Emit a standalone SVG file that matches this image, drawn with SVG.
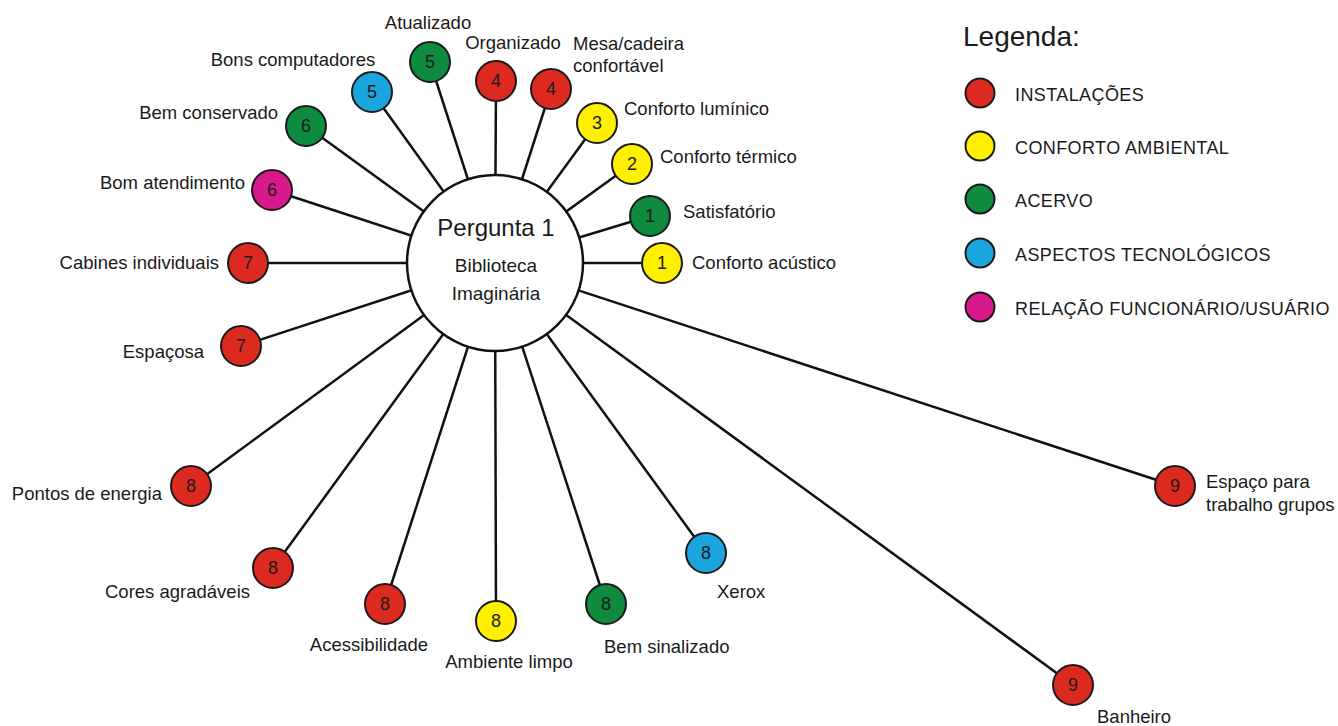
<svg xmlns="http://www.w3.org/2000/svg" width="1338" height="726" viewBox="0 0 1338 726">
<style>
text{font-family:"Liberation Sans",Arial,sans-serif;fill:#1a1a1a}
.lbl{font-size:18.5px}
.num{font-size:18px;text-anchor:middle}
.leg{font-size:18px;letter-spacing:0.4px}
.n{stroke:#1a1a1a;stroke-width:2}
.r{fill:#dc2a20}.y{fill:#ffef00}.g{fill:#0e8b3e}.b{fill:#1aa6dc}.m{fill:#d91a8c}
.c line{stroke:#111;stroke-width:2.5}
</style>
<g id="connectors" class="c">
<line x1="495" y1="263" x2="430" y2="62"/>
<line x1="495" y1="263" x2="496" y2="81"/>
<line x1="495" y1="263" x2="551" y2="89"/>
<line x1="495" y1="263" x2="372" y2="92"/>
<line x1="495" y1="263" x2="306" y2="126"/>
<line x1="495" y1="263" x2="597" y2="123"/>
<line x1="495" y1="263" x2="632" y2="164"/>
<line x1="495" y1="263" x2="272" y2="190"/>
<line x1="495" y1="263" x2="650" y2="216"/>
<line x1="495" y1="263" x2="248" y2="263"/>
<line x1="495" y1="263" x2="662" y2="263"/>
<line x1="495" y1="263" x2="241" y2="346"/>
<line x1="495" y1="263" x2="191" y2="486"/>
<line x1="495" y1="263" x2="273" y2="568"/>
<line x1="495" y1="263" x2="385" y2="604"/>
<line x1="495" y1="263" x2="496" y2="621"/>
<line x1="495" y1="263" x2="606" y2="604"/>
<line x1="495" y1="263" x2="706" y2="553"/>
<line x1="495" y1="263" x2="1073" y2="685"/>
<line x1="495" y1="263" x2="1175" y2="486"/>
</g>
<g id="center">
<circle cx="495" cy="263" r="88" fill="#fff" stroke="#111" stroke-width="2.5"/>
<text x="496" y="236" font-size="24" text-anchor="middle">Pergunta 1</text>
<text x="496" y="272" font-size="19" text-anchor="middle">Biblioteca</text>
<text x="496" y="300" font-size="19" text-anchor="middle">Imaginária</text>
</g>
<g id="n-atualizado"><circle class="n g" cx="430" cy="62" r="20"/><text class="num" x="430" y="68">5</text><text class="lbl" x="428" y="29" text-anchor="middle">Atualizado</text></g>
<g id="n-organizado"><circle class="n r" cx="496" cy="81" r="20"/><text class="num" x="496" y="87">4</text><text class="lbl" x="513" y="49" text-anchor="middle">Organizado</text></g>
<g id="n-mesa"><circle class="n r" cx="551" cy="89" r="20"/><text class="num" x="551" y="95">4</text><text class="lbl" x="573" y="50">Mesa/cadeira</text><text class="lbl" x="573" y="72">confortável</text></g>
<g id="n-computadores"><circle class="n b" cx="372" cy="92" r="20"/><text class="num" x="372" y="98">5</text><text class="lbl" x="293" y="66" text-anchor="middle">Bons computadores</text></g>
<g id="n-conservado"><circle class="n g" cx="306" cy="126" r="20"/><text class="num" x="306" y="132">6</text><text class="lbl" x="278" y="119" text-anchor="end">Bem conservado</text></g>
<g id="n-luminico"><circle class="n y" cx="597" cy="123" r="20"/><text class="num" x="597" y="129">3</text><text class="lbl" x="624" y="115">Conforto lumínico</text></g>
<g id="n-termico"><circle class="n y" cx="632" cy="164" r="20"/><text class="num" x="632" y="170">2</text><text class="lbl" x="660" y="163">Conforto térmico</text></g>
<g id="n-atendimento"><circle class="n m" cx="272" cy="190" r="20"/><text class="num" x="272" y="196">6</text><text class="lbl" x="245" y="189" text-anchor="end">Bom atendimento</text></g>
<g id="n-satisfatorio"><circle class="n g" cx="650" cy="216" r="20"/><text class="num" x="650" y="222">1</text><text class="lbl" x="683" y="218">Satisfatório</text></g>
<g id="n-cabines"><circle class="n r" cx="248" cy="263" r="20"/><text class="num" x="248" y="269">7</text><text class="lbl" x="219" y="269" text-anchor="end">Cabines individuais</text></g>
<g id="n-acustico"><circle class="n y" cx="662" cy="263" r="20"/><text class="num" x="662" y="269">1</text><text class="lbl" x="692" y="269">Conforto acústico</text></g>
<g id="n-espacosa"><circle class="n r" cx="241" cy="346" r="20"/><text class="num" x="241" y="352">7</text><text class="lbl" x="204" y="358" text-anchor="end">Espaçosa</text></g>
<g id="n-energia"><circle class="n r" cx="191" cy="486" r="20"/><text class="num" x="191" y="492">8</text><text class="lbl" x="162" y="500" text-anchor="end">Pontos de energia</text></g>
<g id="n-cores"><circle class="n r" cx="273" cy="568" r="20"/><text class="num" x="273" y="574">8</text><text class="lbl" x="250" y="598" text-anchor="end">Cores agradáveis</text></g>
<g id="n-acessibilidade"><circle class="n r" cx="385" cy="604" r="20"/><text class="num" x="385" y="610">8</text><text class="lbl" x="369" y="651" text-anchor="middle">Acessibilidade</text></g>
<g id="n-limpo"><circle class="n y" cx="496" cy="621" r="20"/><text class="num" x="496" y="627">8</text><text class="lbl" x="509" y="668" text-anchor="middle">Ambiente limpo</text></g>
<g id="n-sinalizado"><circle class="n g" cx="606" cy="604" r="20"/><text class="num" x="606" y="610">8</text><text class="lbl" x="604" y="653">Bem sinalizado</text></g>
<g id="n-xerox"><circle class="n b" cx="706" cy="553" r="20"/><text class="num" x="706" y="559">8</text><text class="lbl" x="717" y="598">Xerox</text></g>
<g id="n-banheiro"><circle class="n r" cx="1073" cy="685" r="20"/><text class="num" x="1073" y="691">9</text><text class="lbl" x="1097" y="723">Banheiro</text></g>
<g id="n-grupos"><circle class="n r" cx="1175" cy="486" r="20"/><text class="num" x="1175" y="492">9</text><text class="lbl" x="1206" y="488">Espaço para</text><text class="lbl" x="1206" y="511">trabalho grupos</text></g>
<g id="legend">
<text x="963" y="46" font-size="28">Legenda:</text>
<circle class="n r" cx="980" cy="93" r="14.5"/><text class="leg" x="1015" y="101">INSTALAÇÕES</text>
<circle class="n y" cx="980" cy="146" r="14.5"/><text class="leg" x="1015" y="154">CONFORTO AMBIENTAL</text>
<circle class="n g" cx="980" cy="199" r="14.5"/><text class="leg" x="1015" y="207">ACERVO</text>
<circle class="n b" cx="980" cy="253" r="14.5"/><text class="leg" x="1015" y="261">ASPECTOS TECNOLÓGICOS</text>
<circle class="n m" cx="980" cy="307" r="14.5"/><text class="leg" x="1015" y="315">RELAÇÃO FUNCIONÁRIO/USUÁRIO</text>
</g>
</svg>
